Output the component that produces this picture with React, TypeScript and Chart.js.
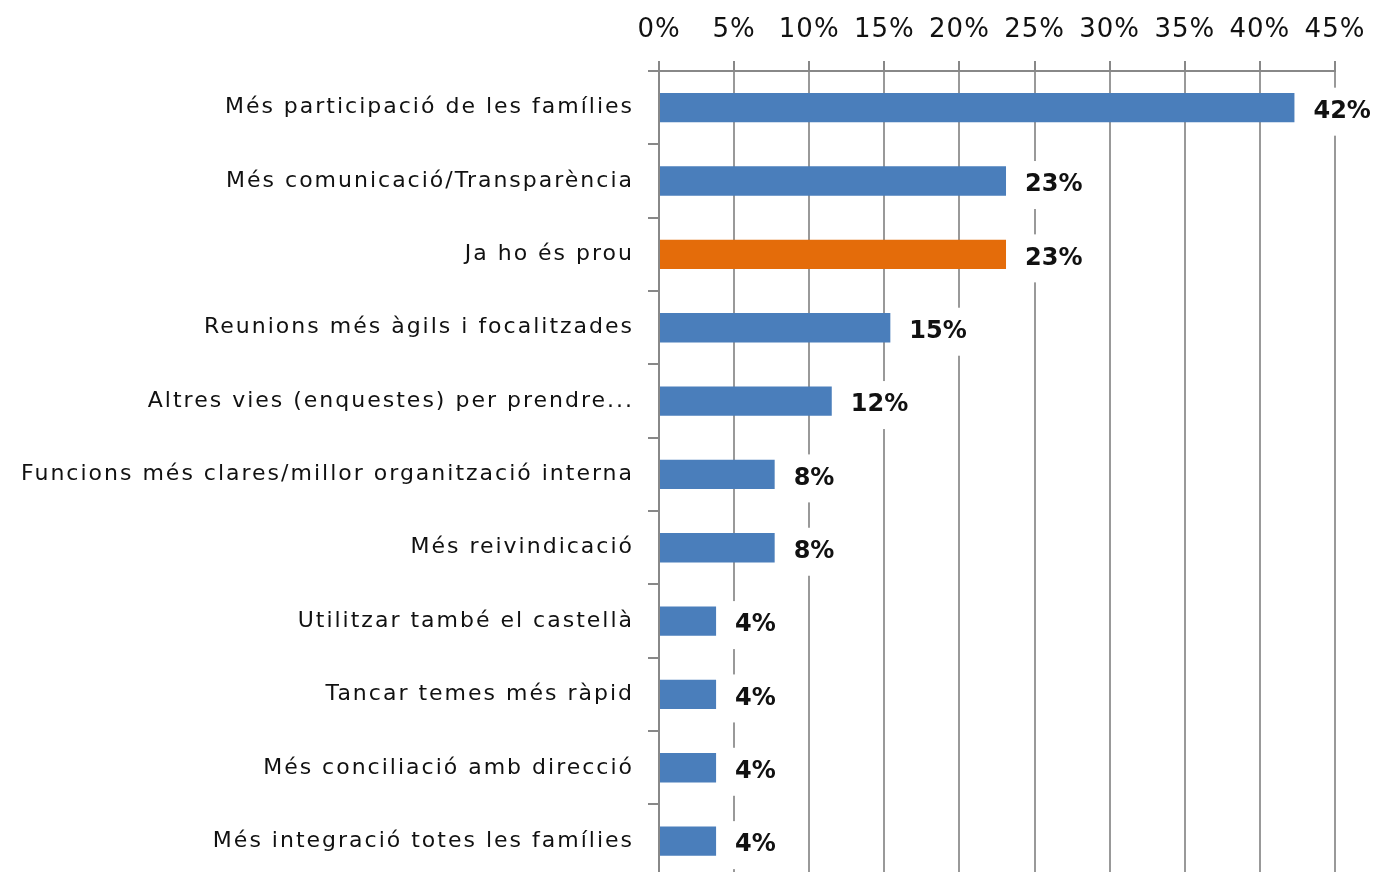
import React, { useEffect, useRef } from "react";
import { Chart, registerables } from "chart.js";

Chart.register(...registerables);

const categories = [
  "Més participació de les famílies",
  "Més comunicació/Transparència",
  "Ja ho és prou",
  "Reunions més àgils i focalitzades",
  "Altres vies (enquestes) per prendre...",
  "Funcions més clares/millor organització interna",
  "Més reivindicació",
  "Utilitzar també el castellà",
  "Tancar temes més ràpid",
  "Més conciliació amb direcció",
  "Més integració totes les famílies",
];
const values = [42.3, 23.1, 23.1, 15.4, 11.5, 7.7, 7.7, 3.8, 3.8, 3.8, 3.8];
const valueLabels = ["42%", "23%", "23%", "15%", "12%", "8%", "8%", "4%", "4%", "4%", "4%"];
const barColors = [
  "#4A7EBB", "#4A7EBB", "#E46C0A", "#4A7EBB", "#4A7EBB", "#4A7EBB",
  "#4A7EBB", "#4A7EBB", "#4A7EBB", "#4A7EBB", "#4A7EBB",
];
const xMin = 0;
const xMax = 45;
const xStep = 5;

const FONT = "'DejaVu Sans', Verdana, sans-serif";

function spacedLabels(scale: any, spacing: string) {
  const proto = Object.getPrototypeOf(scale);
  scale.drawLabels = function (area: any) {
    const ctx = this.ctx;
    ctx.save();
    (ctx as any).letterSpacing = spacing;
    proto.drawLabels.call(this, area);
    ctx.restore();
  };
}

const labelPlugin = {
  id: "barValueLabels",
  afterDatasetsDraw(chart: any) {
    const ctx = chart.ctx;
    const meta = chart.getDatasetMeta(0);
    ctx.save();
    ctx.font = `bold 24px ${FONT}`;
    ctx.textBaseline = "middle";
    ctx.textAlign = "left";
    meta.data.forEach((bar: any, i: number) => {
      const text = valueLabels[i];
      const x = bar.x + 19;
      const y = bar.y + 4;
      const w = ctx.measureText(text).width;
      ctx.fillStyle = "#ffffff";
      ctx.fillRect(x - 4, y - 24, w + 8, 48);
      ctx.fillStyle = "#111111";
      ctx.fillText(text, x, y);
    });
    ctx.restore();
  },
};

export default function App() {
  const ref = useRef<HTMLCanvasElement>(null);
  useEffect(() => {
    if (!ref.current) return;
    const chart = new Chart(ref.current, {
      type: "bar",
      data: {
        labels: categories,
        datasets: [
          {
            data: values,
            backgroundColor: barColors,
            borderWidth: 0,
            categoryPercentage: 1,
            barPercentage: 0.4,
          },
        ],
      },
      options: {
        indexAxis: "y",
        responsive: false,
        animation: false,
        devicePixelRatio: 1,
        layout: { padding: { top: 0, right: 42, bottom: 0, left: 0 } },
        plugins: {
          legend: { display: false },
          tooltip: { enabled: false },
        },
        scales: {
          x: {
            position: "top",
            min: xMin,
            max: xMax,
            afterFit: (scale: any) => {
              scale.height = 71;
              scale.paddingRight = 0;
              scale.paddingLeft = 0;
              spacedLabels(scale, "1px");
            },
            ticks: {
              stepSize: xStep,
              callback: (v: any) => `${v}%`,
              color: "#111111",
              font: { family: FONT, size: 26 },
              padding: 15,
              maxRotation: 0,
            },
            grid: {
              color: "#999999",
              lineWidth: 2,
              tickLength: 10,
              tickColor: "#888888",
            },
            border: { color: "#888888", width: 2 },
          },
          y: {
            afterFit: (scale: any) => {
              scale.width = 659;
              spacedLabels(scale, "2px");
            },
            ticks: {
              color: "#111111",
              font: { family: FONT, size: 22 },
              padding: 14,
            },
            grid: {
              drawOnChartArea: false,
              tickLength: 11,
              tickColor: "#888888",
              lineWidth: 2,
            },
            border: { color: "#888888", width: 2 },
          },
        },
      },
      plugins: [labelPlugin],
    } as any);
    return () => chart.destroy();
  }, []);
  return (
    <div
      style={{
        position: "fixed",
        left: 0,
        top: 0,
        width: 1377,
        height: 872,
        overflow: "hidden",
        background: "#ffffff",
      }}
    >
      <canvas ref={ref} width={1377} height={905} style={{ display: "block" }} />
    </div>
  );
}
